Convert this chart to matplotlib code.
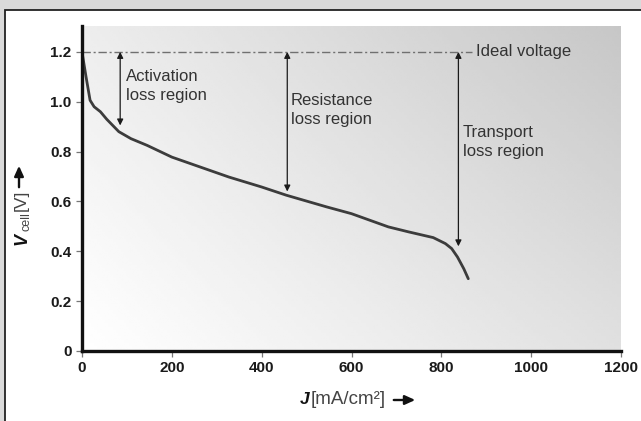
import numpy as np
import matplotlib.pyplot as plt
from matplotlib.patches import Rectangle, FancyArrowPatch

plt.rcParams['font.family'] = ['Liberation Sans', 'DejaVu Sans']

# polarisation curve
current = [0, 9, 18, 27, 41, 55, 82, 109, 145, 200, 273, 327, 400, 455,
           545, 600, 682, 727, 782, 809, 823, 836, 850, 860]
voltage = [1.20, 1.10, 1.006, 0.98, 0.96, 0.93, 0.88, 0.852, 0.825, 0.778,
           0.732, 0.698, 0.658, 0.625, 0.578, 0.551, 0.498, 0.478, 0.455,
           0.431, 0.411, 0.377, 0.330, 0.290]

ideal_v = 1.2
ideal_end = 868

# loss region arrows: x position, lower end
arrow_x = [85, 457, 838]
arrow_low = [0.905, 0.64, 0.42]
region_labels = ['Activation\nloss region', 'Resistance\nloss region',
                 'Transport\nloss region']
label_x = [97, 465, 848]
label_y = [1.063, 0.968, 0.840]

xticks = [0, 200, 400, 600, 800, 1000, 1200]
yticks = [0, 0.2, 0.4, 0.6, 0.8, 1.0, 1.2]
ytick_labels = ['0', '0.2', '0.4', '0.6', '0.8', '1.0', '1.2']

W, H = 641, 421
fig = plt.figure(figsize=(W / 100, H / 100), dpi=100)
fig.patch.set_facecolor('#dadada')

# white panel with dark border (top/left only visible)
panel = Rectangle((5 / W, -0.2), 1.2, 1.2 - 10 / H,
                  transform=fig.transFigure, facecolor='white',
                  edgecolor='#222222', linewidth=1.3, zorder=-5)
fig.patches.append(panel)

ax = fig.add_axes([82 / W, 70 / H, 539 / W, 325 / H])
ax.set_zorder(1)
ax.set_xlim(0, 1200)
ax.set_ylim(0, 1.304)
ax.patch.set_alpha(0)

# background gradient
gx, gy = np.meshgrid(np.linspace(0, 1, 200), np.linspace(0, 1, 100))
shade = 1 - 0.12 * gx - 0.07 * gy - 0.03 * gx * gy
ax.imshow(shade, extent=[0, 1200, 0, 1.304], origin='lower', aspect='auto',
          cmap='gray', vmin=0, vmax=1, zorder=0, interpolation='bilinear')

ax.plot([0, ideal_end], [ideal_v, ideal_v], color='#707070', lw=1.0,
        dashes=(6, 2, 1.5, 2), zorder=2)
ax.text(ideal_end + 10, ideal_v, 'Ideal voltage', fontsize=12,
        color='#333333', ha='left', va='center')

ax.plot(current, voltage, color='#3c3c3c', lw=2.0, zorder=3,
        solid_capstyle='round')

for xa, lo in zip(arrow_x, arrow_low):
    ax.annotate('', xy=(xa, lo), xytext=(xa, ideal_v),
                arrowprops=dict(arrowstyle='<|-|>', color='#1a1a1a', lw=0.9,
                                mutation_scale=9, shrinkA=0, shrinkB=0))

for lx, ly, txt in zip(label_x, label_y, region_labels):
    ax.text(lx, ly, txt, fontsize=12, color='#333333', ha='left',
            va='center', linespacing=1.35)

for side in ['top', 'right']:
    ax.spines[side].set_visible(False)
for side in ['left', 'bottom']:
    ax.spines[side].set_linewidth(2.4)
    ax.spines[side].set_color('#111111')
    ax.spines[side].set_zorder(4)

ax.set_xticks(xticks)
ax.set_xticklabels([str(t) for t in xticks])
ax.set_yticks(yticks)
ax.set_yticklabels(ytick_labels)
ax.tick_params(length=4.5, width=0.9, color='#777777', labelsize=11,
               labelcolor='#1a1a1a', pad=3)
for lab in ax.get_xticklabels() + ax.get_yticklabels():
    lab.set_fontweight('bold')

# x label
fig.text(309 / W, 1 - 399 / H, 'J', fontsize=12.5, fontweight='bold',
         fontstyle='italic', ha='right', va='center', color='#111111')
fig.text(311 / W, 1 - 399 / H, '[mA/cm²]', fontsize=13.5, ha='left',
         va='center', color='#444444')
fig.patches.append(FancyArrowPatch(
    (391, H - 400), (418, H - 400), transform=None,
    arrowstyle='-|>,head_length=0.55,head_width=0.25',
    mutation_scale=11, lw=1.7, color='#111111', zorder=3))

# y label (rotated pieces)
fig.text(22 / W, 1 - 245 / H, 'V', fontsize=13, fontweight='bold',
         fontstyle='italic', rotation=90, ha='center', va='bottom',
         color='#111111')
fig.text(26 / W, 1 - 231 / H, 'cell', fontsize=9, rotation=90,
         ha='center', va='bottom', color='#444444')
fig.text(21 / W, 1 - 211 / H, '[V]', fontsize=12.5, rotation=90,
         ha='center', va='bottom', color='#444444')
fig.patches.append(FancyArrowPatch(
    (19, H - 190), (19, H - 163), transform=None,
    arrowstyle='-|>,head_length=0.55,head_width=0.25',
    mutation_scale=11, lw=1.7, color='#111111', zorder=3))

fig.savefig('out.png', dpi=100, facecolor=fig.get_facecolor())
